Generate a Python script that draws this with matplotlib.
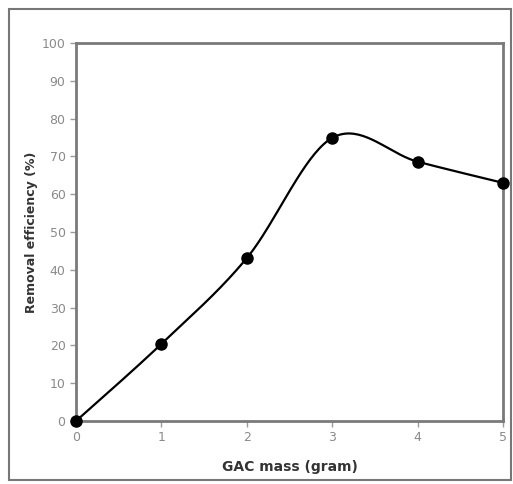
import numpy as np
import matplotlib
matplotlib.use("Agg")
import matplotlib.pyplot as plt
from matplotlib.patches import Rectangle

gac_mass = [0, 1, 2, 3, 4, 5]
removal = [0.0, 20.4, 43.1, 74.9, 68.6, 63.0]
x_ticks = [0, 1, 2, 3, 4, 5]
y_ticks = list(range(0, 101, 10))


def excel_smooth(x, y, n=40):
    x = np.asarray(x, float); y = np.asarray(y, float)
    px = np.concatenate([[x[0]], x, [x[-1]]])
    py = np.concatenate([[y[0]], y, [y[-1]]])
    xs, ys = [], []
    t = np.linspace(0, 1, n)
    for i in range(1, len(px) - 2):
        p0 = np.array([px[i], py[i]]); p3 = np.array([px[i + 1], py[i + 1]])
        p1 = p0 + (np.array([px[i + 1], py[i + 1]]) - np.array([px[i - 1], py[i - 1]])) / 6
        p2 = p3 - (np.array([px[i + 2], py[i + 2]]) - np.array([px[i], py[i]])) / 6
        b = ((1 - t) ** 3)[:, None] * p0 + (3 * (1 - t) ** 2 * t)[:, None] * p1 \
            + (3 * (1 - t) * t ** 2)[:, None] * p2 + (t ** 3)[:, None] * p3
        xs.append(b[:, 0]); ys.append(b[:, 1])
    return np.concatenate(xs), np.concatenate(ys)


fig = plt.figure(figsize=(5.13, 4.84), dpi=100)
fig.patches.append(Rectangle((9 / 513, 4 / 484), 502 / 513, 471 / 484, transform=fig.transFigure,
                             fill=False, edgecolor="#777777", linewidth=1.5))
ax = fig.add_axes([76 / 513, 63 / 484, 427 / 513, 378 / 484])

sx, sy = excel_smooth(gac_mass, removal)
ax.plot(sx, sy, color="black", linewidth=1.6, zorder=2)
ax.plot(gac_mass, removal, "o", color="black", markersize=8, zorder=3, clip_on=False)

ax.set_xlim(0, 5)
ax.set_ylim(0, 100)
ax.set_xticks(x_ticks)
ax.set_yticks(y_ticks)
for s in ax.spines.values():
    s.set_color("#7a7a7a")
    s.set_linewidth(2)
ax.tick_params(axis="both", colors="#9a9a9a", labelcolor="#8a8a8a", labelsize=9,
               direction="out", length=4, width=1)
ax.set_xlabel("GAC mass (gram)", fontsize=10, fontweight="bold", color="#333333", labelpad=11)
ax.set_ylabel("Removal efficiency (%)", fontsize=9, fontweight="bold", color="#333333", labelpad=3)

fig.savefig("out.png", dpi=100)
